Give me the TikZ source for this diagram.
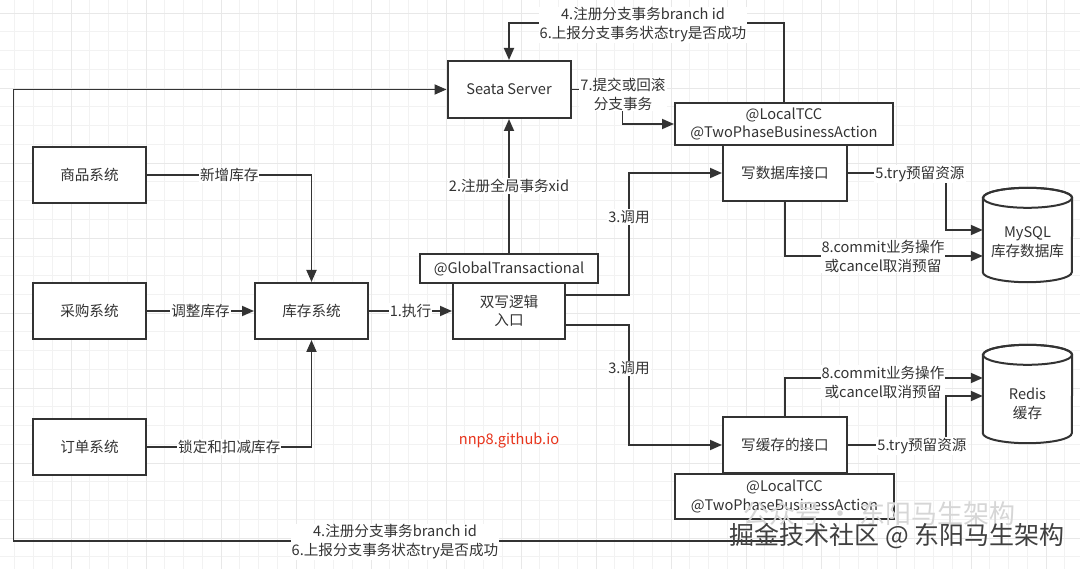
\documentclass[tikz,border=0pt]{standalone}
\usepackage{fontspec}
\setmainfont{Noto Sans CJK SC}
\usetikzlibrary{arrows.meta,calc}
\definecolor{ink}{HTML}{333333}
\definecolor{redtxt}{HTML}{E8341C}
\tikzset{
  box/.style={draw=ink,line width=2pt,fill=white,inner sep=0pt,align=center,
    font=\fontsize{14.6}{18.5}\selectfont,text=ink},
  lab/.style={fill=white,inner sep=1pt,align=center,font=\fontsize{14.6}{19}\selectfont,text=ink},
  conn/.style={draw=ink,line width=1.8pt},
  arr/.style={conn,-{Triangle[length=12pt,width=10pt]}},
  gridminor/.style={draw=black!5,line width=0.6pt},
  gridmajor/.style={draw=black!9,line width=0.8pt},
  cylbody/.style={draw=ink,line width=2pt,fill=white},
}
\begin{document}
\begin{tikzpicture}[x=1pt,y=-1pt]
\useasboundingbox (0,0) rectangle (1080,569);
\fill[white] (0,0) rectangle (1080,569);
\begin{scope}
\clip (0,0) rectangle (1080,569);
\foreach \k in {0,...,58} \draw[gridminor] ({-4+\k*18.75},0) -- ({-4+\k*18.75},569);
\foreach \k in {0,...,31} \draw[gridminor] (0,{-5.75+\k*18.75}) -- (1080,{-5.75+\k*18.75});
\foreach \k in {0,...,14} \draw[gridmajor] ({-4+\k*75},0) -- ({-4+\k*75},569);
\foreach \k in {0,...,7} \draw[gridmajor] (0,{13+\k*75}) -- (1080,{13+\k*75});
\end{scope}

% boxes
\node[box,minimum width=123pt,minimum height=57pt] (seata) at (509,89.5) {Seata Server};
\node[box,minimum width=218pt,minimum height=42pt] (ltcc1) at (784,124) {@LocalTCC\\@TwoPhaseBusinessAction};
\node[box,minimum width=124pt,minimum height=56pt] (dbw) at (785,173) {写数据库接口};
\node[box,minimum width=124pt,minimum height=56pt] (cachew) at (785,445) {写缓存的接口};
\node[box,minimum width=219pt,minimum height=45pt] (ltcc2) at (784.5,496.5) {@LocalTCC\\@TwoPhaseBusinessAction};
\node[box,minimum width=178pt,minimum height=29pt] (gt) at (509,268.5) {@GlobalTransactional};
\node[box,minimum width=112pt,minimum height=56pt] (dual) at (509,311) {双写逻辑\\入口};
\node[box,minimum width=113pt,minimum height=56pt] (goods) at (89.5,175) {商品系统};
\node[box,minimum width=113pt,minimum height=56pt] (purch) at (89.5,311) {采购系统};
\node[box,minimum width=113pt,minimum height=56pt] (order) at (89.5,447) {订单系统};
\node[box,minimum width=113pt,minimum height=56pt] (inv) at (311.5,311) {库存系统};

% cylinders
\node[minimum width=89pt,minimum height=94pt,inner sep=0pt] (mysql) at (1027.5,235) {};
\node[minimum width=89pt,minimum height=98pt,inner sep=0pt] (redis) at (1027.5,394) {};
\foreach \c in {mysql,redis}{
  \path[cylbody] ([yshift=-10pt]\c.north west) -- ([yshift=10pt]\c.south west)
     arc[start angle=180,end angle=360,x radius=44.5pt,y radius=10pt]
     -- ([yshift=-10pt]\c.north east)
     arc[start angle=0,end angle=180,x radius=44.5pt,y radius=10pt] -- cycle;
  \draw[draw=ink,line width=2pt] ($(\c.north)+(0pt,-10pt)$) ellipse[x radius=44.5pt,y radius=10pt];
}
\node[lab,fill=none] (mysqlt) at (1027.5,242) {MySQL\\库存数据库};
\node[lab,fill=none] (redist) at (1027.5,404) {Redis\\缓存};

\coordinate (m1) at ([yshift=5pt]mysql.west);
\coordinate (m2) at ([yshift=-21pt]mysql.west);
\coordinate (r1) at ([yshift=16pt]redis.west);
\coordinate (r2) at ([yshift=-2pt]redis.west);

% connectors left
\draw[arr] (goods.east) -- node[lab]{新增库存} (goods.east -| inv.north) -- (inv.north);
\draw[arr] (purch.east) -- node[lab]{调整库存} (inv.west);
\draw[arr] (order.east) -- node[lab]{锁定和扣减库存} (order.east -| inv.south) -- (inv.south);
\draw[arr] (inv.east) -- node[lab]{1.执行} (dual.west);
\draw[arr] (gt.north) -- node[lab]{2.注册全局事务xid} (seata.south);

% calls
\draw[arr] ([yshift=16pt]dual.east) -- ++(63,0) coordinate (a1) -- node[lab,pos=0.64]{3.调用} (a1 |- dbw.west) -- (dbw.west);
\draw[arr] ([yshift=-14pt]dual.east) -- ++(63,0) coordinate (a2) -- node[lab,pos=0.36]{3.调用} (a2 |- cachew.west) -- (cachew.west);

% seata branch
\draw[arr] (seata.east) -- ++(51,0) coordinate (b1) -- (b1 |- ltcc1.west) -- (ltcc1.west);
\node[lab] (l7) at (623,94) {7.提交或回滚\\分支事务};
\draw[arr] (ltcc1.north) -- ++(0,-79) coordinate (c1) -- (c1 -| seata.north) -- (seata.north);
\node[lab] (l46a) at (643,25) {4.注册分支事务branch id\\6.上报分支事务状态try是否成功};
\draw[arr] (ltcc2.south) -- ++(0,21) coordinate (d1) -- ++(-771,0) coordinate (e1) -- (e1 |- seata.west) -- (seata.west);
\node[lab] (l46b) at (395,542) {4.注册分支事务branch id\\6.上报分支事务状态try是否成功};

% resources
\draw[arr] (dbw.east) -- ++(98,0) coordinate (f1) -- (f1 |- m1) -- (m1);
\node[lab] (l5a) at (920,174) {5.try预留资源};
\draw[arr] (dbw.south) |- (m2);
\node[lab] (l8a) at (883,256) {8.commit业务操作\\或cancel取消预留};
\draw[arr] (cachew.north) |- (r1);
\node[lab] (l8b) at (883,382) {8.commit业务操作\\或cancel取消预留};
\draw[arr] (cachew.east) -- ++(98,0) coordinate (g1) -- (g1 |- r2) -- (r2);
\node[lab] (l5b) at (922,446) {5.try预留资源};

% red link text
\node[text=redtxt,font=\fontsize{14.6}{18}\selectfont] (url) at (509,441) {nnp8.github.io};

% watermarks
\node[text=black!16,font=\fontsize{26}{30}\selectfont,anchor=west] (wm1) at (740,514) {公众号 · 东阳马生架构};
\node[text=black!75,font=\fontsize{25}{28}\selectfont,anchor=west] (wm2) at (726,536) {掘金技术社区 @ 东阳马生架构};
\end{tikzpicture}
\end{document}
